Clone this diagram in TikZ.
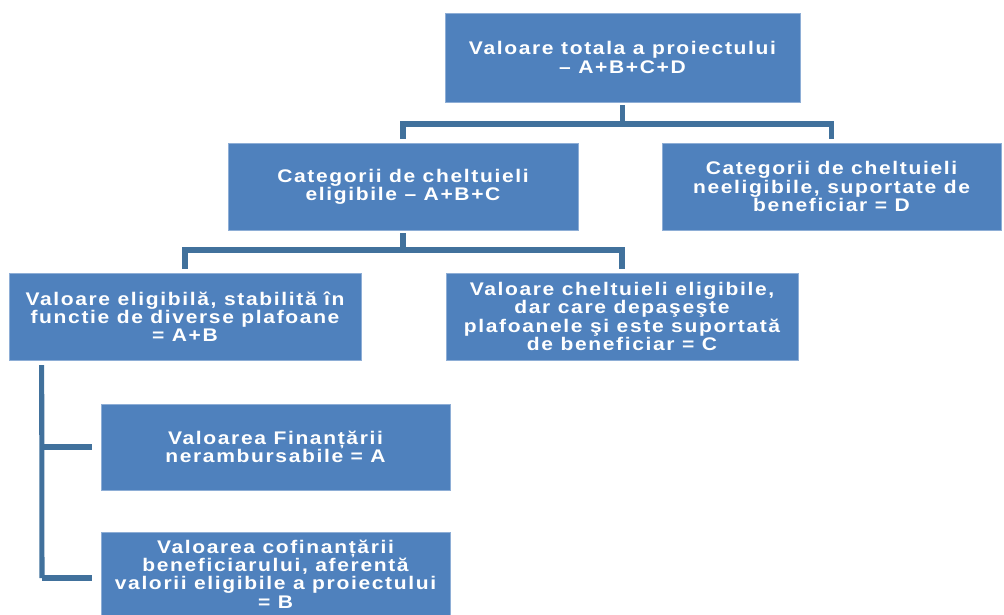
\documentclass[tikz,border=0pt]{standalone}
\usepackage{fontspec}
\newfontfamily\boxfont{Liberation Sans}[FakeStretch=1.15, LetterSpace=9]
\usetikzlibrary{positioning}

\definecolor{boxblue}{HTML}{4F81BD}
\definecolor{boxedge}{HTML}{8EAED6}
\definecolor{linkblue}{HTML}{41719C}

\begin{document}
\begin{tikzpicture}[
    x=0.025cm, y=-0.025cm,
    font={\boxfont\bfseries\fontsize{13}{13}\selectfont},
    % Styles
    box/.style={
        draw=boxedge,
        line width=0.4pt,
        fill=boxblue,
        text=white,
        minimum height=2.175cm,
        inner sep=0pt,
        align=center
    },
    link/.style={draw=linkblue, line width=3.6pt},
    bracket/.style={link, shorten >=0.22cm}
]
    \useasboundingbox (0,0) rectangle (1004,615);

    % --- TOP ---
    \node[box, minimum width=8.875cm, minimum height=2.225cm] (total) at (622.5,57.5)
        {Valoare totala a proiectului\\– A+B+C+D};

    % --- SECOND LEVEL ---
    \node[box, minimum width=8.75cm] (elig) at (403,186.5)
        {Categorii de cheltuieli\\eligibile – A+B+C};
    \node[box, minimum width=8.475cm] (neelig) at (831.5,186.5)
        {Categorii de cheltuieli\\neeligibile, suportate de\\beneficiar = D};

    % --- THIRD LEVEL ---
    \node[box, minimum width=8.8cm] (plaf) at (185,316.5)
        {Valoare eligibilă, stabilită în\\functie de diverse plafoane\\= A+B};
    \node[box, minimum width=8.8cm] (peste) at (622,316.5)
        {Valoare cheltuieli eligibile,\\dar care depaşeşte\\plafoanele şi este suportată\\de beneficiar = C};

    % --- FINANCING ---
    \node[box, minimum width=8.725cm, minimum height=2.15cm] (nerb) at (275.5,447)
        {Valoarea Finanțării\\nerambursabile = A};
    \node[box, minimum width=8.725cm, minimum height=2.075cm, below=1.05cm of nerb] (cofin)
        {Valoarea cofinanțării\\beneficiarului, aferentă\\valorii eligibile a proiectului\\= B};

    % --- CONNECTORS ---
    \coordinate (busA) at (622.5,124);
    \coordinate (busB) at (403,250);
    \coordinate (busC) at (42,578);
    \draw[link] ([yshift=-0.08cm]total.south) -- (busA);
    \draw[link] (busA) -| ([yshift=0.1cm]elig.north);
    \draw[link] (busA) -| ([yshift=0.1cm]neelig.north);
    \draw[link] ([yshift=-0.08cm]elig.south) -- (busB);
    \draw[link] (busB) -| ([yshift=0.1cm]plaf.north);
    \draw[link] (busB) -| ([yshift=0.1cm]peste.north);
    \draw[link] ([xshift=33*0.025cm, yshift=-0.12cm]plaf.south west) -- (busC);
    \draw[bracket] (busC |- nerb.west) -- (nerb.west);
    \draw[bracket] (busC) -- (busC -| cofin.west);

\end{tikzpicture}
\end{document}
